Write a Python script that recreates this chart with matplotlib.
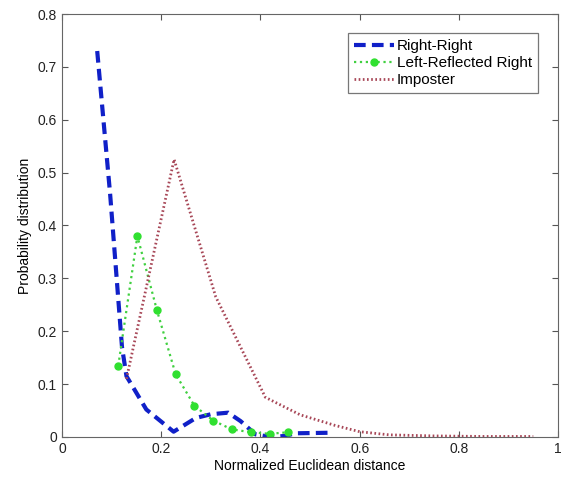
import matplotlib
matplotlib.use('Agg')
import matplotlib.pyplot as plt

plt.rcParams['font.family'] = ['Liberation Sans', 'DejaVu Sans']

# Right-Right
rr_x = [0.071, 0.097, 0.121, 0.130, 0.170, 0.225, 0.270, 0.300, 0.335, 0.360, 0.390, 0.420, 0.450, 0.470, 0.540]
rr_y = [0.730, 0.460, 0.170, 0.115, 0.052, 0.010, 0.036, 0.043, 0.046, 0.030, 0.005, 0.000, 0.002, 0.007, 0.008]

# Left-Reflected Right
lr_x = [0.1135, 0.152, 0.191, 0.229, 0.267, 0.305, 0.342, 0.381, 0.419, 0.456]
lr_y = [0.135, 0.380, 0.241, 0.119, 0.059, 0.031, 0.0145, 0.009, 0.006, 0.009]

# Imposter
im_x = [0.130, 0.226, 0.310, 0.410, 0.480, 0.550, 0.600, 0.660, 0.750, 0.850, 0.950]
im_y = [0.110, 0.525, 0.265, 0.075, 0.042, 0.022, 0.010, 0.004, 0.002, 0.001, 0.001]

fig = plt.figure(figsize=(5.66, 4.78), dpi=100)
ax = fig.add_axes([0.1095, 0.0858, 0.8765, 0.8849])

ax.plot(rr_x, rr_y, linestyle='--', linewidth=3, color='#1020c8',
        dashes=(2.8, 1.5), label='Right-Right')
ax.plot(lr_x, lr_y, linestyle=':', linewidth=1.6, color='#40d040',
        marker='o', markersize=5, markerfacecolor='#30e030',
        markeredgecolor='#30e030', label='Left-Reflected Right')
ax.plot(im_x, im_y, linestyle=':', linewidth=2, color='#a84858',
        dashes=(0.6, 0.9), label='Imposter')

ax.set_xlim(0, 1)
ax.set_ylim(0, 0.8)
ax.set_xticks([0, 0.2, 0.4, 0.6, 0.8, 1])
ax.set_xticklabels(['0', '0.2', '0.4', '0.6', '0.8', '1'])
ax.set_yticks([0, 0.1, 0.2, 0.3, 0.4, 0.5, 0.6, 0.7, 0.8])
ax.set_yticklabels(['0', '0.1', '0.2', '0.3', '0.4', '0.5', '0.6', '0.7', '0.8'])
ax.tick_params(direction='in', top=True, right=True, labelsize=10, length=4, colors='#555555', labelcolor='#222222')
for s in ax.spines.values():
    s.set_color('#666666')

ax.set_xlabel('Normalized Euclidean distance', fontsize=10, labelpad=2)
ax.set_ylabel('Probability distribution', fontsize=10, labelpad=4)

leg = ax.legend(loc='upper right', bbox_to_anchor=(0.96, 0.955), fontsize=11,
                fancybox=False, handlelength=2.6, borderpad=0.4,
                labelspacing=0.2, handletextpad=0.2, borderaxespad=0)
leg.get_frame().set_edgecolor('#555555')
leg.get_frame().set_linewidth(0.9)

fig.savefig('out.png', dpi=100)
